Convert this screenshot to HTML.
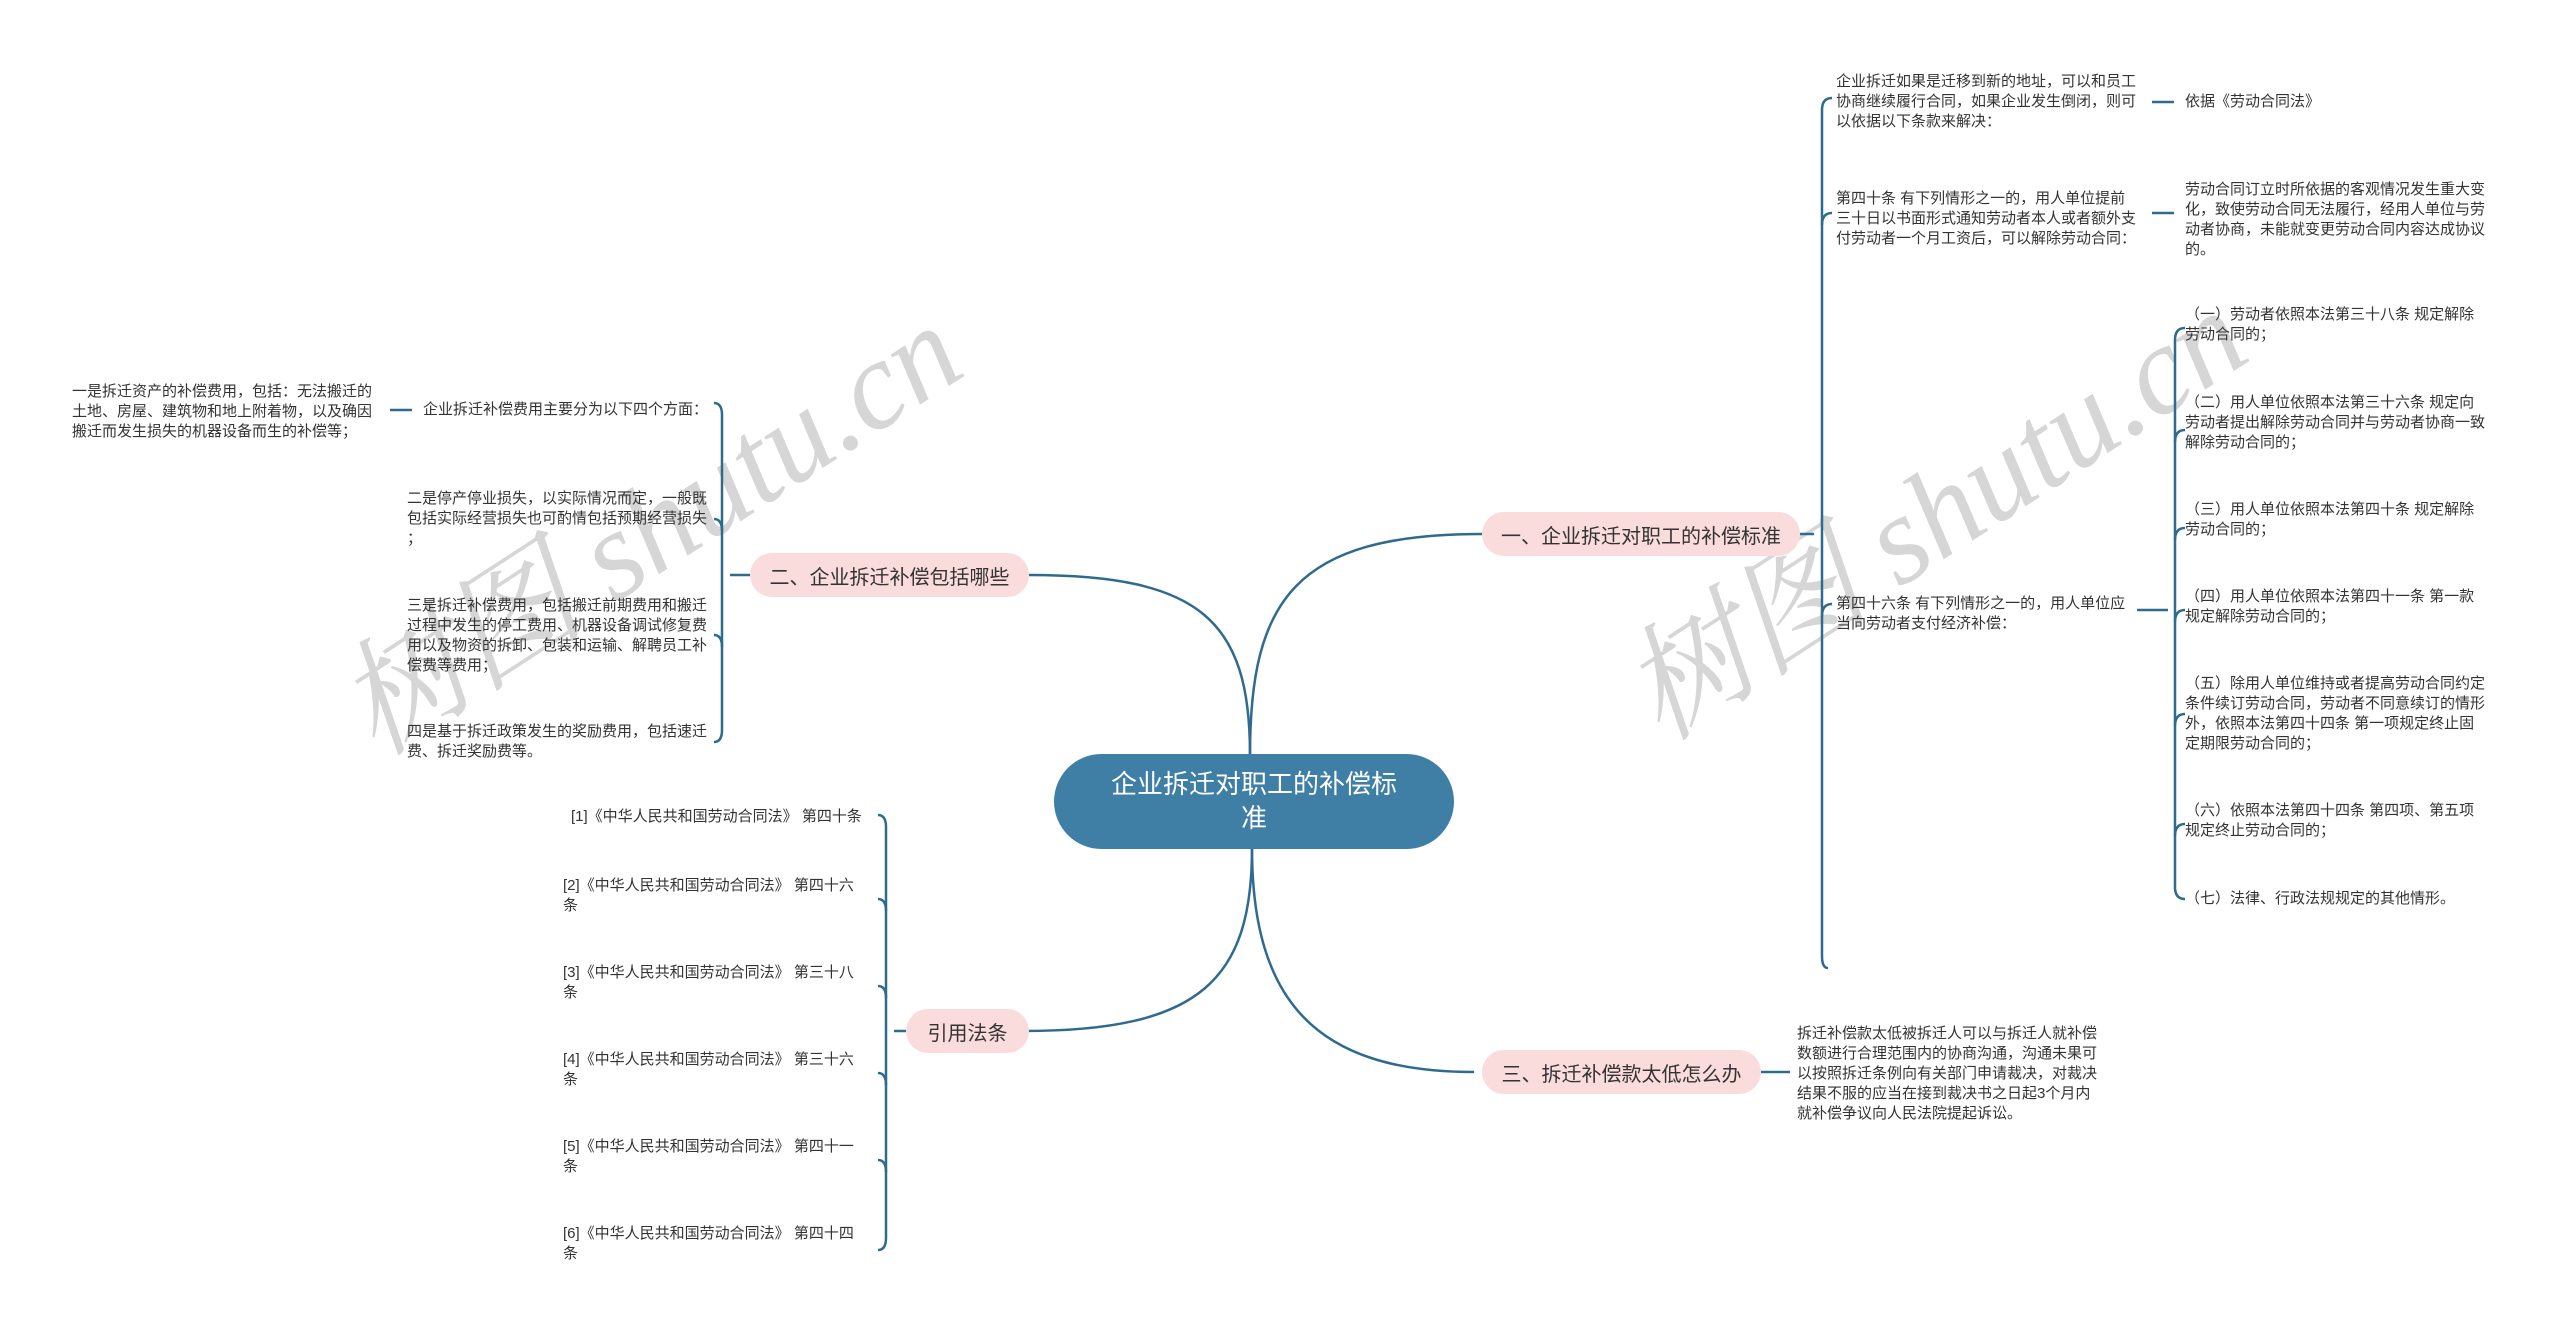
<!DOCTYPE html>
<html><head><meta charset="utf-8"><style>
*{margin:0;padding:0;box-sizing:border-box}
body{width:2560px;height:1331px;background:#fff;position:relative;overflow:hidden;font-family:"Liberation Sans","Noto Sans CJK SC",sans-serif;color:#333}
.t{position:absolute;font-size:15px;line-height:20px;white-space:nowrap}
.pill{position:absolute;background:#fadcdc;border-radius:22px;font-size:20px;display:flex;align-items:center;justify-content:center;color:#333}
.wm{position:absolute;font-family:"Liberation Serif","Noto Serif CJK SC",serif;font-style:italic;font-size:126px;color:#d6d6d6;white-space:nowrap;transform-origin:center;transform:rotate(-33deg)}
svg{position:absolute;left:0;top:0}
</style></head><body>
<div class="wm" style="left:290px;top:430px">树图 shutu.cn</div>
<div class="wm" style="left:1575px;top:415px">树图 shutu.cn</div>
<svg width="2560" height="1331" fill="none" stroke="#2f6a8f" stroke-width="2.5">
<path d="M1250,755 C1250,600 1295,534 1482,534"/>
<path d="M1250,755 C1250,620 1200,575 1029,575"/>
<path d="M1252,848 C1252,980 1200,1031 1024,1031"/>
<path d="M1252,848 C1252,1000 1315,1072 1474,1072"/>
<path d="M1800,534 H1814"/>
<path d="M1822,110 Q1822,98 1832,98 M1822,110 V956 Q1822,968 1828,968"/>
<path d="M1822,225 Q1822,213 1832,213 M1822,616 Q1822,604 1832,604"/>
<path d="M2152,102 H2174"/>
<path d="M2152,213 H2174"/>
<path d="M2137,610 H2168"/>
<path d="M2175,340 Q2175,328 2185,328 M2175,340 V887 Q2175,899 2185,899"/>
<path d="M2175,442 Q2175,430 2185,430 M2175,540 Q2175,528 2185,528 M2175,622 Q2175,610 2185,610 M2175,726 Q2175,714 2185,714 M2175,836 Q2175,824 2185,824"/>
<path d="M750,575 H730"/>
<path d="M722,415 Q722,403 714,403 M722,415 V730 Q722,742 714,742"/>
<path d="M722,531 Q722,519 714,519 M722,647 Q722,635 714,635"/>
<path d="M412,410 H390"/>
<path d="M906,1031 H894"/>
<path d="M886,827 Q886,815 878,815 M886,827 V1238 Q886,1250 878,1250"/>
<path d="M886,911 Q886,899 878,899 M886,998 Q886,986 878,986 M886,1085 Q886,1073 878,1073 M886,1172 Q886,1160 878,1160"/>
<path d="M1761,1072 H1790"/>
</svg>
<div style="position:absolute;left:1054px;top:754px;width:400px;height:95px;background:#3f7ea5;border-radius:48px;color:#fff;font-size:26px;line-height:34px;text-align:center;padding-top:13px">企业拆迁对职工的补偿标<br>准</div>
<div class="pill" style="left:1482px;top:512px;width:318px;height:44px">一、企业拆迁对职工的补偿标准</div>
<div class="pill" style="left:750px;top:553px;width:279px;height:44px">二、企业拆迁补偿包括哪些</div>
<div class="pill" style="left:906px;top:1009px;width:123px;height:44px">引用法条</div>
<div class="pill" style="left:1482px;top:1050px;width:279px;height:44px">三、拆迁补偿款太低怎么办</div>

<div class="t" style="left:1836px;top:72px">企业拆迁如果是迁移到新的地址，可以和员工<br>协商继续履行合同，如果企业发生倒闭，则可<br>以依据以下条款来解决：</div>
<div class="t" style="left:2185px;top:92px">依据《劳动合同法》</div>
<div class="t" style="left:1836px;top:189px">第四十条 有下列情形之一的，用人单位提前<br>三十日以书面形式通知劳动者本人或者额外支<br>付劳动者一个月工资后，可以解除劳动合同：</div>
<div class="t" style="left:2185px;top:180px">劳动合同订立时所依据的客观情况发生重大变<br>化，致使劳动合同无法履行，经用人单位与劳<br>动者协商，未能就变更劳动合同内容达成协议<br>的。</div>
<div class="t" style="left:1836px;top:594px">第四十六条 有下列情形之一的，用人单位应<br>当向劳动者支付经济补偿：</div>
<div class="t" style="left:2185px;top:305px">（一）劳动者依照本法第三十八条 规定解除<br>劳动合同的；</div>
<div class="t" style="left:2185px;top:393px">（二）用人单位依照本法第三十六条 规定向<br>劳动者提出解除劳动合同并与劳动者协商一致<br>解除劳动合同的；</div>
<div class="t" style="left:2185px;top:500px">（三）用人单位依照本法第四十条 规定解除<br>劳动合同的；</div>
<div class="t" style="left:2185px;top:587px">（四）用人单位依照本法第四十一条 第一款<br>规定解除劳动合同的；</div>
<div class="t" style="left:2185px;top:674px">（五）除用人单位维持或者提高劳动合同约定<br>条件续订劳动合同，劳动者不同意续订的情形<br>外，依照本法第四十四条 第一项规定终止固<br>定期限劳动合同的；</div>
<div class="t" style="left:2185px;top:801px">（六）依照本法第四十四条 第四项、第五项<br>规定终止劳动合同的；</div>
<div class="t" style="left:2185px;top:889px">（七）法律、行政法规规定的其他情形。</div>

<div class="t" style="left:72px;top:382px">一是拆迁资产的补偿费用，包括：无法搬迁的<br>土地、房屋、建筑物和地上附着物，以及确因<br>搬迁而发生损失的机器设备而生的补偿等；</div>
<div class="t" style="left:423px;top:400px">企业拆迁补偿费用主要分为以下四个方面：</div>
<div class="t" style="left:407px;top:489px">二是停产停业损失，以实际情况而定，一般既<br>包括实际经营损失也可酌情包括预期经营损失<br>；</div>
<div class="t" style="left:407px;top:596px">三是拆迁补偿费用，包括搬迁前期费用和搬迁<br>过程中发生的停工费用、机器设备调试修复费<br>用以及物资的拆卸、包装和运输、解聘员工补<br>偿费等费用；</div>
<div class="t" style="left:407px;top:722px">四是基于拆迁政策发生的奖励费用，包括速迁<br>费、拆迁奖励费等。</div>

<div class="t" style="left:571px;top:807px">[1]《中华人民共和国劳动合同法》 第四十条</div>
<div class="t" style="left:563px;top:876px">[2]《中华人民共和国劳动合同法》 第四十六<br>条</div>
<div class="t" style="left:563px;top:963px">[3]《中华人民共和国劳动合同法》 第三十八<br>条</div>
<div class="t" style="left:563px;top:1050px">[4]《中华人民共和国劳动合同法》 第三十六<br>条</div>
<div class="t" style="left:563px;top:1137px">[5]《中华人民共和国劳动合同法》 第四十一<br>条</div>
<div class="t" style="left:563px;top:1224px">[6]《中华人民共和国劳动合同法》 第四十四<br>条</div>

<div class="t" style="left:1797px;top:1024px">拆迁补偿款太低被拆迁人可以与拆迁人就补偿<br>数额进行合理范围内的协商沟通，沟通未果可<br>以按照拆迁条例向有关部门申请裁决，对裁决<br>结果不服的应当在接到裁决书之日起3个月内<br>就补偿争议向人民法院提起诉讼。</div>
</body></html>
